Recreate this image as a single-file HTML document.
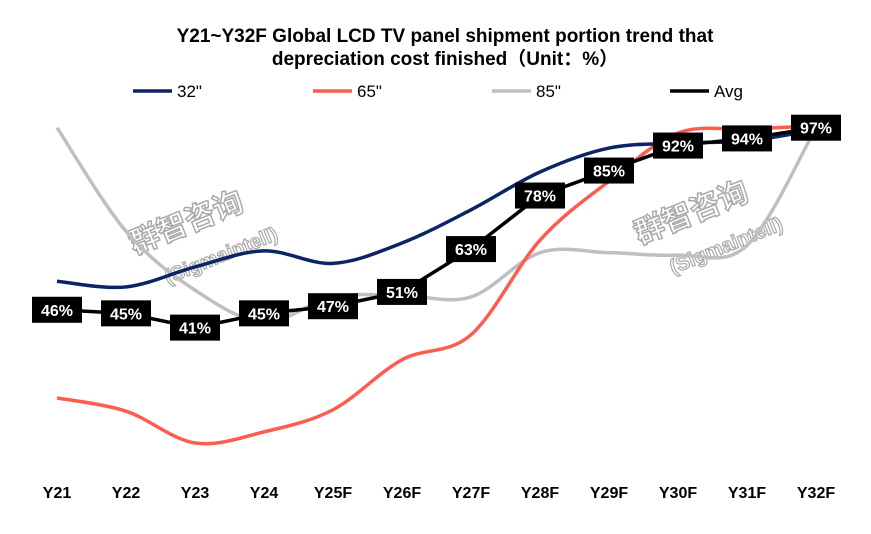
<!DOCTYPE html>
<html><head><meta charset="utf-8"><style>
body{margin:0;background:#fff;}
svg text{font-family:"Liberation Sans","Noto Sans CJK SC",sans-serif;}
</style></head><body>
<svg width="871" height="529" viewBox="0 0 871 529" xmlns="http://www.w3.org/2000/svg">
<text x="445" y="42" text-anchor="middle" font-size="19" font-weight="bold">Y21~Y32F Global LCD TV panel shipment portion trend that</text>
<text x="445" y="65" text-anchor="middle" font-size="19" font-weight="bold">depreciation cost finished（Unit：%）</text>
<g id="wm"></g>
<g id="lines"></g>
<g id="labels"></g>
<g id="xaxis"></g>
<g id="legend"></g>
</svg>
<script>
const categories=["Y21","Y22","Y23","Y24","Y25F","Y26F","Y27F","Y28F","Y29F","Y30F","Y31F","Y32F"];
const s32=[54,52.4,58,62.5,59,64.7,74,84.6,91.3,92.7,93.3,96.4];
const s65=[21.3,17.6,8.7,11.8,18,32,39,65.5,82,95.5,96.6,97.5];
const s85=[97,68,51.5,42.6,49.6,50,49.6,62,62,61.3,64,97];
const avg=[46,45,41,45,47,51,63,78,85,92,94,97];
const avgLabels=["46%","45%","41%","45%","47%","51%","63%","78%","85%","92%","94%","97%"];
const NS="http://www.w3.org/2000/svg";
function x(i){return 57+i*69;}
function y(v){return 474-3.57*v;}
function mk(t,a,p){const e=document.createElementNS(NS,t);for(const k in a)e.setAttribute(k,a[k]);p.appendChild(e);return e;}
function smooth(vals){
  const P=vals.map((v,i)=>[x(i),y(v)]);let d="M"+P[0][0]+","+P[0][1];
  for(let i=0;i<P.length-1;i++){const p0=P[Math.max(0,i-1)],p1=P[i],p2=P[i+1],p3=P[Math.min(P.length-1,i+2)];
    const c1=[p1[0]+(p2[0]-p0[0])/6,p1[1]+(p2[1]-p0[1])/6],c2=[p2[0]-(p3[0]-p1[0])/6,p2[1]-(p3[1]-p1[1])/6];
    d+=" C"+c1[0]+","+c1[1]+" "+c2[0]+","+c2[1]+" "+p2[0]+","+p2[1];}
  return d;}
const lines=document.getElementById('lines');
const wm=document.getElementById('wm');
[[190,232,-22],[695,222,-22]].forEach(([cx,cy,r])=>{
  const t1=mk('text',{x:cx,y:cy,'text-anchor':'middle','font-size':30,'font-weight':'bold',fill:'#fff',stroke:'#aaa','stroke-width':1.5,transform:`rotate(${r} ${cx} ${cy})`},wm);t1.textContent="群智咨询";
  
  const t2=mk('text',{x:cx+20,y:cy+40,'text-anchor':'middle','font-size':20,'font-weight':'bold',fill:'#fff',stroke:'#aaa','stroke-width':1.2,transform:`rotate(${r} ${cx} ${cy})`},wm);t2.textContent="(Sigmaintell)";
  
});
[[s85,"#bfbfbf","series-85"],[s65,"#ff5b4f","series-65"],[s32,"#0b2463","series-32"]].forEach(([s,c,n])=>{
  const p=mk('path',{d:smooth(s),fill:'none',stroke:c,'stroke-width':3.5},lines);
  
});
const ap=mk('path',{d:avg.map((v,i)=>(i?"L":"M")+x(i)+","+y(v)).join(" "),fill:'none',stroke:'#000','stroke-width':3.5},lines);

const lab=document.getElementById('labels');
avg.forEach((v,i)=>{
  const r=mk('rect',{x:x(i)-25,y:y(v)-13,width:50,height:26,fill:'#000'},lab);
  
  const t=mk('text',{x:x(i),y:y(v)+6,'text-anchor':'middle','font-size':16,'font-weight':'bold',fill:'#fff'},lab);t.textContent=avgLabels[i];
  
});
const xa=document.getElementById('xaxis');
categories.forEach((c,i)=>{const t=mk('text',{x:x(i),y:498,'text-anchor':'middle','font-size':16,'font-weight':'bold'},xa);t.textContent=c;
  });
const lg=document.getElementById('legend');
[["32\"","#0b2463",133],["65\"","#ff5b4f",313],["85\"","#bfbfbf",492],["Avg","#000",670]].forEach(([n,c,lx])=>{
  const l=mk('line',{x1:lx,y1:91,x2:lx+39,y2:91,stroke:c,'stroke-width':3.5},lg);
  
  const t=mk('text',{x:lx+44,y:97,'font-size':17},lg);t.textContent=n;
  
});
</script>
</body></html>
